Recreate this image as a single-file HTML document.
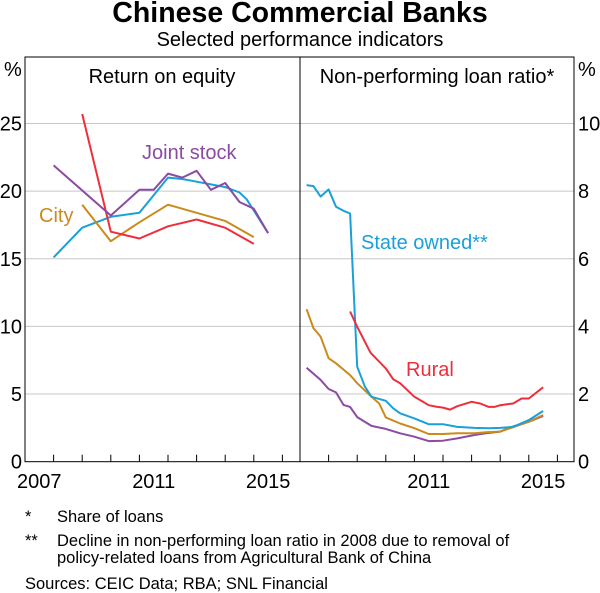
<!DOCTYPE html>
<html><head><meta charset="utf-8"><style>
body{margin:0;background:#fff;}
svg{display:block;font-family:"Liberation Sans",Arial,sans-serif;}
</style></head><body>
<svg id="chart" width="600" height="593" viewBox="0 0 600 593" xmlns="http://www.w3.org/2000/svg">
<text x="300" y="22" text-anchor="middle" font-size="28.5" font-weight="bold" fill="#000">Chinese Commercial Banks</text>
<text x="300" y="46" text-anchor="middle" font-size="20" fill="#000">Selected performance indicators</text>
<g id="grid"></g>
<g id="series"></g>
<g id="axes"></g>
<text x="162" y="83" text-anchor="middle" font-size="20">Return on equity</text>
<text x="437" y="83" text-anchor="middle" font-size="20">Non-performing loan ratio*</text>
<text x="4" y="76" font-size="20">%</text>
<text x="578" y="76" font-size="20">%</text>
<text x="142" y="159" font-size="20" fill="#8b4aa3">Joint stock</text>
<text x="39" y="222" font-size="20" fill="#cc8a1a">City</text>
<text x="361" y="249" font-size="20" fill="#1aa0d8">State owned**</text>
<text x="406" y="376" font-size="20" fill="#ee2e3b">Rural</text>
<text x="25" y="522" font-size="16.5">*</text>
<text x="57" y="522" font-size="16.5">Share of loans</text>
<text x="25" y="546" font-size="16.5">**</text>
<text x="57" y="546" font-size="16.5">Decline in non-performing loan ratio in 2008 due to removal of</text>
<text x="57" y="563" font-size="16.5">policy-related loans from Agricultural Bank of China</text>
<text x="25" y="589" font-size="16.5">Sources:  CEIC Data; RBA; SNL Financial</text>
</svg>
<script>
// Left panel: Return on equity (%)
const roeJointT = [2008,2010,2011,2011.5,2012,2012.5,2013,2013.5,2014,2014.5,2015,2015.5];
const roeJointV = [21.9,18.2,20.1,20.1,21.3,21.0,21.5,20.1,20.6,19.2,18.7,16.9];
const roeStateT = [2008,2009,2010,2011,2012,2012.5,2013,2013.5,2014,2014.5,2014.75,2015.5];
const roeStateV = [15.1,17.3,18.1,18.4,21.0,20.9,20.7,20.5,20.3,19.9,19.4,16.9];
const roeRuralT = [2009,2010,2011,2012,2013,2014,2015];
const roeRuralV = [25.7,17.0,16.5,17.4,17.9,17.3,16.1];
const roeCityT = [2009,2010,2011,2012,2013,2014,2015];
const roeCityV = [19.0,16.3,17.7,19.0,18.4,17.8,16.6];
// Right panel: NPL ratio (%)
const nplStateT = [2007.23,2007.47,2007.72,2008,2008.26,2008.52,2008.75,2009,2009.27,2009.5,2010,2010.26,2010.5,2011,2011.5,2012,2012.5,2013.1,2013.6,2014,2014.45,2015,2015.5];
const nplStateV = [8.18,8.15,7.84,8.05,7.54,7.42,7.34,2.81,2.22,1.92,1.80,1.58,1.43,1.28,1.11,1.11,1.03,1.0,0.99,1.0,1.03,1.23,1.50];
const nplRuralT = [2008.75,2009,2009.47,2010,2010.26,2010.5,2011,2011.3,2011.5,2011.8,2012,2012.25,2012.5,2013,2013.3,2013.6,2013.8,2014,2014.45,2014.75,2015,2015.5];
const nplRuralV = [4.44,3.99,3.22,2.76,2.44,2.32,1.92,1.77,1.67,1.62,1.60,1.54,1.64,1.77,1.72,1.62,1.62,1.67,1.72,1.87,1.87,2.20];
const nplCityT = [2007.23,2007.47,2007.72,2008,2008.26,2008.75,2009,2009.5,2009.77,2010,2010.5,2011,2011.5,2012,2012.5,2013.1,2013.5,2014,2014.45,2015,2015.5];
const nplCityV = [4.51,3.95,3.70,3.06,2.91,2.56,2.32,1.92,1.72,1.31,1.13,0.99,0.82,0.82,0.84,0.84,0.87,0.89,1.02,1.18,1.38];
const nplJointT = [2007.23,2007.72,2008,2008.26,2008.52,2008.75,2009,2009.5,2010,2010.5,2011,2011.5,2012,2012.5,2013.1,2013.5,2014,2014.45,2015,2015.5];
const nplJointV = [2.78,2.42,2.15,2.05,1.68,1.62,1.32,1.06,0.97,0.84,0.74,0.61,0.62,0.69,0.79,0.84,0.89,1.04,1.18,1.35];
const leftTicks = [0,5,10,15,20,25];
const rightTicks = [0,2,4,6,8,10];
const yearLabels = [2007,2011,2015];

const NS='http://www.w3.org/2000/svg';
const X0=25, XM=300, X1=574, YB=461.7, YT=57, PY=28.6;
const xL = t => X0 + (t-2007)*PY;
const xR = t => XM + (t-2007)*PY;
const yL = v => YB - v*(YB-123.5)/25;
const yR = v => YB - v*(YB-123.5)/10;
function mk(tag, attrs, parent){const e=document.createElementNS(NS,tag);for(const k in attrs)e.setAttribute(k,attrs[k]);parent.appendChild(e);return e;}
const grid=document.getElementById('grid'), axes=document.getElementById('axes'), ser=document.getElementById('series');

leftTicks.forEach(v=>{
  if(v>0){const g=mk('line',{x1:X0,x2:X1,y1:yL(v),y2:yL(v),stroke:'#c8c8c8','stroke-width':1},grid);
  
  }
  const t=mk('text',{x:22,y:yL(v)+7,'text-anchor':'end','font-size':20},axes);t.textContent=v;
  
  
});
rightTicks.forEach(v=>{
  const t=mk('text',{x:578,y:yR(v)+7,'font-size':20},axes);t.textContent=v;
  
  
});
const fr=mk('rect',{x:X0,y:YT,width:X1-X0,height:YB-YT,fill:'none',stroke:'#000','stroke-width':1},axes);


const dv=mk('line',{x1:XM,x2:XM,y1:YT,y2:YB,stroke:'#000','stroke-width':1},axes);


for(let y=2008;y<=2016;y++){
  [xL(y),xR(y)].forEach(x=>{
    const tk=mk('line',{x1:x,x2:x,y1:YB,y2:YB-7,stroke:'#000','stroke-width':1},axes);
    
    
  });
}
yearLabels.forEach(y=>{
  const a=mk('text',{x:xL(y+0.5),y:488,'text-anchor':'middle','font-size':20},axes);a.textContent=y;
  
  
  if(y>2007){const b=mk('text',{x:xR(y+0.5),y:488,'text-anchor':'middle','font-size':20},axes);b.textContent=y;
  
  }
});
function line(T,V,fx,fy,color,name){
  const d=T.map((t,i)=>(i?'L':'M')+fx(t).toFixed(1)+','+fy(V[i]).toFixed(1)).join('');
  const p=mk('path',{d:d,fill:'none',stroke:color,'stroke-width':2,'stroke-linejoin':'round'},ser);
  
  
}
line(roeStateT,roeStateV,xL,yL,'#1aa0d8','roe-state-owned-line');
line(roeCityT,roeCityV,xL,yL,'#cc8a1a','roe-city-line');
line(roeRuralT,roeRuralV,xL,yL,'#ee2e3b','roe-rural-line');
line(roeJointT,roeJointV,xL,yL,'#8b4aa3','roe-joint-stock-line');
line(nplJointT,nplJointV,xR,yR,'#8b4aa3','npl-joint-stock-line');
line(nplCityT,nplCityV,xR,yR,'#cc8a1a','npl-city-line');
line(nplStateT,nplStateV,xR,yR,'#1aa0d8','npl-state-owned-line');
line(nplRuralT,nplRuralV,xR,yR,'#ee2e3b','npl-rural-line');
</script>
</body></html>
